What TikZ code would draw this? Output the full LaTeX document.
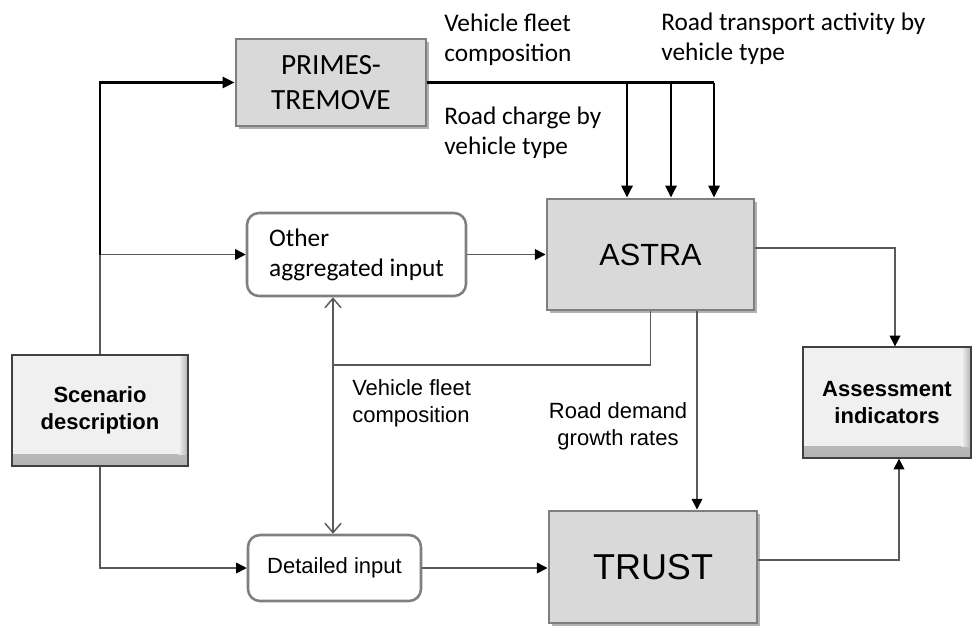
\documentclass[tikz,border=0pt]{standalone}
\usepackage{fontspec}
\setmainfont{Carlito}
\newfontfamily\arialf{Liberation Sans}
\usetikzlibrary{arrows.meta,shadows}
\definecolor{boxgray}{HTML}{D9D9D9}
\definecolor{edgegray}{HTML}{7F7F7F}
\definecolor{linegray}{HTML}{595959}
\definecolor{lightbox}{HTML}{F0F0F0}
\definecolor{darkedge}{HTML}{404040}
\begin{document}
\begin{tikzpicture}[x=0.75pt,y=-0.75pt,
  model/.style={draw=edgegray, line width=2.2pt, fill=boxgray, inner sep=0pt,
    drop shadow={shadow xshift=2.5pt,shadow yshift=-2.5pt,opacity=0.3,fill=black}},
  inputbox/.style={draw=edgegray, line width=1.9pt, fill=white, rounded corners=9pt, inner sep=0pt},
  endbox/.style={draw=darkedge, line width=1pt, fill=lightbox, inner sep=0pt, align=center,
    font=\arialf\bfseries\fontsize{16.5}{20}\selectfont,
    path picture={
      \shade[top color=lightbox, bottom color=gray!60] ([yshift=9pt]path picture bounding box.south west) rectangle (path picture bounding box.south east);
      \shade[left color=lightbox, right color=gray!60] ([xshift=-7pt]path picture bounding box.north east) rectangle ([yshift=9pt]path picture bounding box.south east);
    }},
  lab/.style={inner sep=0pt, align=left, font=\fontsize{19}{22.5}\selectfont},
  alab/.style={inner sep=0pt, font=\arialf\fontsize{16.5}{20.5}\selectfont},
  thickc/.style={draw=black, line width=1.6pt},
  thinc/.style={draw=linegray, line width=1.1pt},
  bigtip/.style={-{Triangle[length=9pt,width=8.5pt]}},
  smalltip/.style={-{Triangle[length=8pt,width=8pt,color=black]}},
  barbs/.style={{Straight Barb[length=7pt,width=12pt]}-{Straight Barb[length=7pt,width=12pt]}}
]
\useasboundingbox (0,0) rectangle (973,626);

% boxes
\node[model, minimum width=142.5pt, minimum height=65.25pt, align=center,
  font=\fontsize{22}{26}\selectfont] (primes) at (331,82.5) {PRIMES-\\TREMOVE};
\node[inputbox, minimum width=164.25pt, minimum height=62.25pt, align=left,
  font=\fontsize{19}{22.5}\selectfont] (other) at (356.5,254.5) {Other\\aggregated input};
\node[endbox, minimum width=132pt, minimum height=83.25pt] (scen) at (100,410.5) {Scenario\\description};
\node[inputbox, minimum width=129.75pt, minimum height=49.5pt,
  font=\arialf\fontsize{16.5}{20}\selectfont] (detailed) at (334.5,568) {Detailed input};
\node[model, minimum width=155.25pt, minimum height=83.25pt,
  font=\arialf\fontsize{23}{27}\selectfont] (astra) at (650.5,254.5) {ASTRA};
\node[model, minimum width=156pt, minimum height=84pt,
  font=\arialf\fontsize{27}{31}\selectfont] (trust) at (653,567) {TRUST};
\node[endbox, minimum width=126pt, minimum height=83.25pt] (assess) at (887,402.5) {Assessment\\indicators};

% labels
\node[lab, anchor=north west] (l1) at (444,14) {Vehicle fleet\\composition};
\node[lab, anchor=north west] (l2) at (444,107) {Road charge by\\vehicle type};
\node[lab, anchor=north west] (l3) at (661,13) {Road transport activity by\\vehicle type};
\node[alab, anchor=north west, align=left] (l4) at (352,379) {Vehicle fleet\\composition};
\node[alab, anchor=north, align=center] (l5) at (618,402) {Road demand\\growth rates};

% coordinates
\coordinate (jn) at (scen.north |- other.west);
\coordinate (t1) at (627,82.5);
\coordinate (t2) at (671,82.5);
\coordinate (t3) at (714,82.5);
\coordinate (vx) at (333,365);
\coordinate (ad) at (697,300);
\coordinate (ai) at (895,248);
\coordinate (ti) at (899,560);

% connectors
\draw[thinc, smalltip] (scen.north) -- (jn) -- (other.west);
\draw[thickc, bigtip] (jn) |- (primes.west);
\draw[thickc] (primes.east) -- (t3);
\draw[thickc, bigtip] (t1) -- (t1 |- astra.north);
\draw[thickc, bigtip] (t2) -- (t2 |- astra.north);
\draw[thickc, bigtip] (t3) -- (t3 |- astra.north);
\draw[thinc, smalltip] (other.east) -- (astra.west);
\draw[thinc, smalltip] (scen.south) |- (detailed.west);
\draw[thinc, barbs] (vx |- other.south) -- (vx |- detailed.north);
\draw[thinc] (astra.south) |- (vx);
\draw[thinc, smalltip] (ad |- astra.south) -- (ad |- trust.north);
\draw[thinc, smalltip] (detailed.east) -- (detailed.east -| trust.west);
\draw[thinc, smalltip] (astra.east |- ai) -- (ai) -- (ai |- assess.north);
\draw[thinc, smalltip] (trust.east |- ti) -- (ti) -- (ti |- assess.south);
\end{tikzpicture}
\end{document}
